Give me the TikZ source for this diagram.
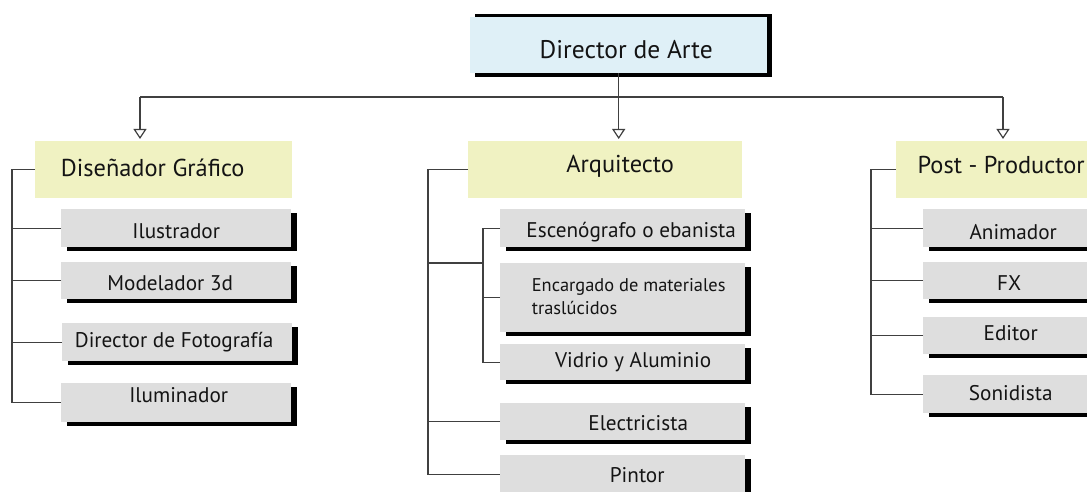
\documentclass[tikz,border=0pt]{standalone}
\usepackage{fontspec}
\setmainfont{PT Sans}
\usetikzlibrary{arrows.meta,shadows}
\definecolor{bluebox}{HTML}{DFF0F7}
\definecolor{yelbox}{HTML}{F0F2C2}
\definecolor{graybx}{HTML}{DEDEDE}
\definecolor{linec}{HTML}{404040}
\begin{document}
\begin{tikzpicture}[x=1pt,y=-1pt,
  conn/.style={draw=linec, line width=1.4pt},
  arr/.style={conn, shorten >=2pt, -{Triangle[open,width=13pt,length=10pt,line width=1.2pt,fill=white]}},
  base/.style={anchor=north west, inner sep=0pt, draw=none},
  ybox/.style={base, fill=yelbox, minimum height=57pt},
  gbox/.style={base, fill=graybx, drop shadow={shadow xshift=6pt, shadow yshift=-3.5pt, opacity=1, fill=black}},
  lbox/.style={gbox, minimum width=230pt},
  mbox/.style={gbox, minimum width=245pt},
  rbox/.style={gbox, minimum width=175pt},
  dtxt/.style={font=\fontsize{25.5}{29}\selectfont, text=black!92},
  ytxt/.style={font=\fontsize{24.4}{28}\selectfont, text=black!92},
  gtxt/.style={font=\fontsize{21.2}{23}\selectfont, text=black!92},
  stxt/.style={font=\fontsize{18.4}{23}\selectfont, text=black!92},
]
\useasboundingbox (0,0) rectangle (1087,492);
\clip (0,0) rectangle (1087,492);
\fill[white] (0,0) rectangle (1087,492);

% top box
\fill[black] (475,14) rectangle (772,77);
\node[base, fill=bluebox, minimum width=297pt, minimum height=56pt,
  label={[dtxt, xshift=7.5pt, yshift=-4pt]center:Director de Arte}] (da) at (470,17) {};

% second level
\node[ybox, minimum width=257pt, label={[ytxt,xshift=-11pt,yshift=1.5pt]center:Diseñador Gráfico}] (dg) at (35,141) {};
\node[ybox, minimum width=274pt, label={[ytxt,xshift=15pt,yshift=3pt]center:Arquitecto}] (ar) at (468,141) {};
\node[ybox, minimum width=200pt, label={[ytxt,xshift=5pt,yshift=4.5pt]center:Post - Productor}] (pp) at (896,141) {};

% left column
\node[lbox, minimum height=38pt, label={[gtxt,yshift=-3pt]center:Ilustrador}] (il) at (61,209) {};
\node[lbox, minimum height=37pt, label={[gtxt,xshift=-6pt,yshift=-2.5pt]center:Modelador 3d}] (mo) at (61,262) {};
\node[lbox, minimum height=38pt, label={[gtxt,xshift=-3pt]center:Director de Fotografía}] (df) at (62,323) {};
\node[lbox, minimum height=39pt, label={[gtxt,xshift=2.5pt,yshift=7.5pt]center:Iluminador}] (ilu) at (61,383) {};

% middle column
\node[mbox, minimum height=38pt, label={[gtxt,xshift=8.5pt,yshift=-4pt]center:Escenógrafo o ebanista}] (es) at (500,209) {};
\node[mbox, minimum height=69pt, label={[stxt,align=left,xshift=6pt,yshift=1pt]center:Encargado de materiales\\traslúcidos}] (en) at (500,263) {};
\node[mbox, minimum height=36pt, label={[gtxt,xshift=10.5pt]center:Vidrio y Aluminio}] (vi) at (500,344) {};
\node[mbox, minimum height=37pt, label={[gtxt,xshift=15.5pt,yshift=-1.5pt]center:Electricista}] (el) at (500,403) {};
\node[mbox, minimum height=38pt, label={[gtxt,xshift=14.5pt,yshift=-1pt]center:Pintor}] (pi) at (500,455) {};

% right column
\node[rbox, minimum height=38pt, label={[gtxt,xshift=2.5pt,yshift=-4pt]center:Animador}] (an) at (923,209) {};
\node[rbox, minimum height=37pt, label={[gtxt,xshift=-1.5pt,yshift=-2.5pt]center:FX}] (fx) at (923,262) {};
\node[rbox, minimum height=37pt, label={[gtxt,yshift=2.5pt]center:Editor}] (ed) at (923,317) {};
\node[rbox, minimum height=38pt, label={[gtxt,yshift=1pt]center:Sonidista}] (so) at (923,375) {};

% top connectors
\coordinate (bl) at (140,97);
\coordinate (br) at (1003,97);
\draw[conn] (bl) -- (br);
\draw[arr] (da.south) -- (da.south |- ar.north);
\draw[arr] (bl) -- (bl |- dg.north);
\draw[arr] (br) -- (br |- pp.north);

% left branch
\coordinate (lx) at (12,0);
\draw[conn] (dg.west) -| (lx |- ilu.west) -- (ilu.west);
\foreach \n in {il,mo,df} \draw[conn] (\n.west) -- (lx |- \n.west);

% middle branch
\coordinate (mx) at (428,0);
\coordinate (sj) at (483,263);
\draw[conn] (ar.west) -| (mx |- pi.west) -- (pi.west);
\draw[conn] (el.west) -- (mx |- el.west);
\draw[conn] (es.west) -| (sj |- vi.west) -- (vi.west);
\draw[conn] (en.west) -- (sj |- en.west);
\draw[conn] (sj) -- (mx |- sj);

% right branch
\coordinate (rx) at (871,0);
\draw[conn] (pp.west) -| (rx |- so.west) -- (so.west);
\foreach \n in {an,fx,ed} \draw[conn] (\n.west) -- (rx |- \n.west);
\end{tikzpicture}
\end{document}
